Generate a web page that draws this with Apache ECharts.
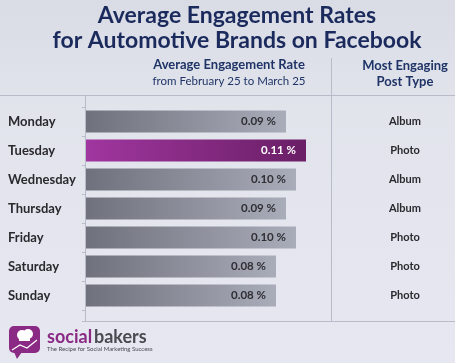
<!DOCTYPE html>
<html><head><meta charset="utf-8">
<script src="https://cdn.jsdelivr.net/npm/echarts@6/dist/echarts.min.js"></script>
<style>html,body{margin:0;padding:0;background:#e4e6ee}#c{width:455px;height:363px}</style>
</head><body><div id="c"></div>
<script>
const days = ['Monday','Tuesday','Wednesday','Thursday','Friday','Saturday','Sunday'];
const rates = [0.09, 0.11, 0.10, 0.09, 0.10, 0.08, 0.08];
const postTypes = ['Album','Photo','Album','Album','Photo','Photo','Photo'];
const highlightDay = 'Tuesday';

const chart = echarts.init(document.getElementById('c'), null, {renderer:'canvas'});
const grayGrad = new echarts.graphic.LinearGradient(0,0,1,0,[{offset:0,color:'#6f717c'},{offset:1,color:'#a9acb9'}]);
const purpleGrad = new echarts.graphic.LinearGradient(0,0,1,0,[{offset:0,color:'#a0369f'},{offset:1,color:'#6a1f66'}]);
const font = 'Lato, "Open Sans", sans-serif';
const lineCol = '#b8bbc8';

chart.setOption({
  backgroundColor: new echarts.graphic.LinearGradient(0,0,0,1,[{offset:0,color:'#d9dce5'},{offset:0.3,color:'#e2e4ec'},{offset:1,color:'#e6e7f0'}]),
  animation:false,
  graphic:[
    {type:'text', x:237, y:16, style:{text:'Average Engagement Rates', align:'center', verticalAlign:'middle', font:'bold 23px '+font, fill:'#1b2a5c'}},
    {type:'text', x:237, y:41, style:{text:'for Automotive Brands on Facebook', align:'center', verticalAlign:'middle', font:'bold 23px '+font, fill:'#1b2a5c'}},
    {type:'line', shape:{x1:0,y1:95.5,x2:455,y2:95.5}, style:{stroke:lineCol, lineWidth:1}},
    {type:'line', shape:{x1:82,y1:321.5,x2:455,y2:321.5}, style:{stroke:lineCol, lineWidth:1}},
    {type:'line', shape:{x1:85.5,y1:95,x2:85.5,y2:322}, style:{stroke:lineCol, lineWidth:1}},
    {type:'line', shape:{x1:331.5,y1:58,x2:331.5,y2:322}, style:{stroke:lineCol, lineWidth:1}},
    {type:'text', x:229, y:65, style:{text:'Average Engagement Rate', align:'center', verticalAlign:'middle', font:'bold 13px '+font, fill:'#1f3466'}},
    {type:'text', x:229, y:81, style:{text:'from February 25 to March 25', align:'center', verticalAlign:'middle', font:'11.5px '+font, fill:'#1f3466'}},
    {type:'text', x:405, y:66, style:{text:'Most Engaging', align:'center', verticalAlign:'middle', font:'bold 13px '+font, fill:'#1f3466'}},
    {type:'text', x:405, y:82, style:{text:'Post Type', align:'center', verticalAlign:'middle', font:'bold 13px '+font, fill:'#1f3466'}},
    {type:'rect', shape:{x:9,y:326,width:31,height:27,r:5}, style:{fill:'#8a2a84'}},
    {type:'polygon', shape:{points:[[14,352],[22,352],[17,359]]}, style:{fill:'#8a2a84'}},
    {type:'circle', shape:{cx:22,cy:335,r:5}, style:{fill:'#ffffff'}},
    {type:'circle', shape:{cx:28,cy:334,r:5}, style:{fill:'#ffffff'}},
    {type:'rect', shape:{x:19,y:337,width:11,height:4}, style:{fill:'#ffffff'}},
    {type:'polyline', shape:{points:[[12,350],[20,345],[27,348],[37,340]]}, style:{stroke:'#ffffff', lineWidth:1.2, fill:null}},
    {type:'text', x:47, y:337, style:{text:'social', verticalAlign:'middle', font:'bold 18px '+font, fill:'#8a2a84'}},
    {type:'text', x:94, y:337, style:{text:'bakers', verticalAlign:'middle', font:'bold 18px '+font, fill:'#4a4a50'}},
    {type:'text', x:47, y:349, style:{text:'The Recipe for Social Marketing Success', verticalAlign:'middle', font:'6px '+font, fill:'#4a4a50'}}
  ],
  grid:{left:86, right:124, top:107, bottom:53},
  xAxis:{type:'value', min:-0.11, max:0.135, startValue:-0.11, show:false},
  yAxis:[
    {type:'category', data:days, inverse:true,
     axisLine:{show:false, onZero:false}, axisTick:{show:true, length:4, lineStyle:{color:lineCol}},
     axisLabel:{align:'left', margin:78, fontFamily:font, fontWeight:'bold', fontSize:13, color:'#2a2a2e'}},
    {type:'category', data:postTypes, inverse:true, position:'right',
     axisLine:{show:false, onZero:false}, axisTick:{show:false},
     axisLabel:{align:'center', margin:74, fontFamily:font, fontWeight:'bold', fontSize:11, color:'#2a2a2e'}}
  ],
  series:[{
    type:'bar', yAxisIndex:0, barCategoryGap:'24%',
    data: rates.map((v,i)=>({value:v, itemStyle:{color: days[i]===highlightDay?purpleGrad:grayGrad},
      label:{color: days[i]===highlightDay?'#ffffff':'#2e2e33'}})),
    label:{show:true, position:'insideRight', distance:10, fontFamily:font, fontWeight:'bold', fontSize:11.5,
      formatter:p=>p.value.toFixed(2)+' %'}
  }]
});
</script></body></html>
